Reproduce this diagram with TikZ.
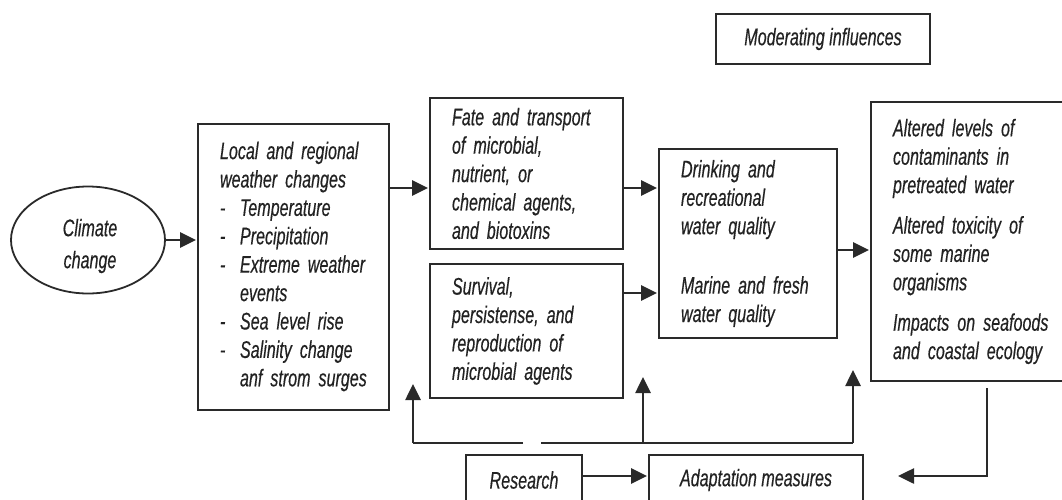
\documentclass[tikz,border=0pt]{standalone}
\usepackage{fontspec}
\setmainfont{Liberation Sans}[FakeStretch=0.67, FakeBold=0.4]
\usetikzlibrary{arrows.meta,shapes.geometric}
\definecolor{ink}{HTML}{222222}
\definecolor{edge}{HTML}{2A2A2A}
\tikzset{
  lbl/.style={font=\fontsize{24}{28.4}\selectfont\itshape, text=ink},
  box/.style={lbl, draw=edge, line width=1.8pt, rectangle, inner sep=0pt,
    inner xsep=22pt, align=left},
  cbox/.style={lbl, draw=edge, line width=1.8pt, rectangle, inner sep=0pt,
    align=center},
  arr/.style={draw=edge, line width=2.6pt,
    -{Triangle[length=16pt,width=15pt]}, shorten >=1pt},
  plain/.style={draw=edge, line width=2.6pt}
}
\newcommand{\headrow}[1]{\multicolumn{2}{@{}l@{}}{#1}}
\begin{document}
\begin{tikzpicture}[x=1pt,y=-1pt]
\useasboundingbox (0,0) rectangle (1062,500);

% main chain of influences
\node[draw=edge, line width=1.8pt, ellipse, minimum width=154pt,
  minimum height=107pt, inner sep=0pt] (clim) at (88,240) {};
\node[lbl, align=center, font=\fontsize{24}{32}\selectfont\itshape]
  (climtxt) at (90,246) {Climate\\change};

\node[box, text width=147pt, minimum height=286pt] (loc) at (293.5,267)
  {\begin{tabular}{@{}p{20pt}@{}l@{}}
   \headrow{Local and regional}\\
   \headrow{weather changes}\\
   - & Temperature\\
   - & Precipitation\\
   - & Extreme weather\\
     & events\\
   - & Sea level rise\\
   - & Salinity change\\
     & anf strom surges
   \end{tabular}};

\node[box, text width=149pt, minimum height=151pt] (fate) at (526.5,173.5)
  {Fate and transport\\of microbial,\\nutrient, or\\chemical agents,\\and biotoxins};

\node[box, text width=149pt, minimum height=134pt] (surv) at (526.5,331)
  {Survival,\\persistense, and\\reproduction of\\microbial agents};

\node[box, text width=134pt, minimum height=189pt] (drink) at (748,243.5)
  {Drinking and\\recreational\\water quality\\[31pt]Marine and fresh\\water quality};

\node[box, text width=160pt, minimum height=279pt] (alt) at (973,241.5)
  {Altered levels of\\contaminants in\\pretreated water\\[12pt]
   Altered toxicity of\\some marine\\organisms\\[12pt]
   Impacts on seafoods\\and coastal ecology};

\node[cbox, minimum width=214pt, minimum height=50pt] (mod) at (823,39)
  {Moderating influences};

% responses
\node[cbox, minimum width=116pt, minimum height=50pt] (res) at (524,480)
  {Research};
\node[cbox, minimum width=214pt, minimum height=50pt] (adap) at (756,480)
  {Adaptation measures};

% forward connectors
\draw[arr] (clim.east) -- (clim.east -| loc.west);
\draw[arr] (loc.east |- 0,188) -- (fate.west |- 0,188);
\draw[arr] (fate.east |- 0,188) -- (drink.west |- 0,188);
\draw[arr] (surv.east |- 0,293) -- (drink.west |- 0,293);
\draw[arr] (drink.east |- 0,250) -- (alt.west |- 0,250);
\draw[arr] (res.east |- 0,476) -- (adap.west |- 0,476);

% feedback from outcomes to adaptation
\coordinate (fbtop) at (987,388);
\coordinate (fbend) at (897,476);
\draw[arr] (fbtop) |- (fbend);

% research feeding back into the chain
\coordinate (busL) at (413,443);
\coordinate (gapL) at (523,443);
\coordinate (gapR) at (541,443);
\coordinate (busM) at (643,443);
\coordinate (busR) at (853,443);
\draw[plain] (gapL) -- (busL);
\draw[plain] (gapR) -- (busR);
\draw[arr] (busL) -- (413,383);
\draw[arr] (busM) -- (643,376);
\draw[arr] (busR) -- (853,369);
\end{tikzpicture}
\end{document}
